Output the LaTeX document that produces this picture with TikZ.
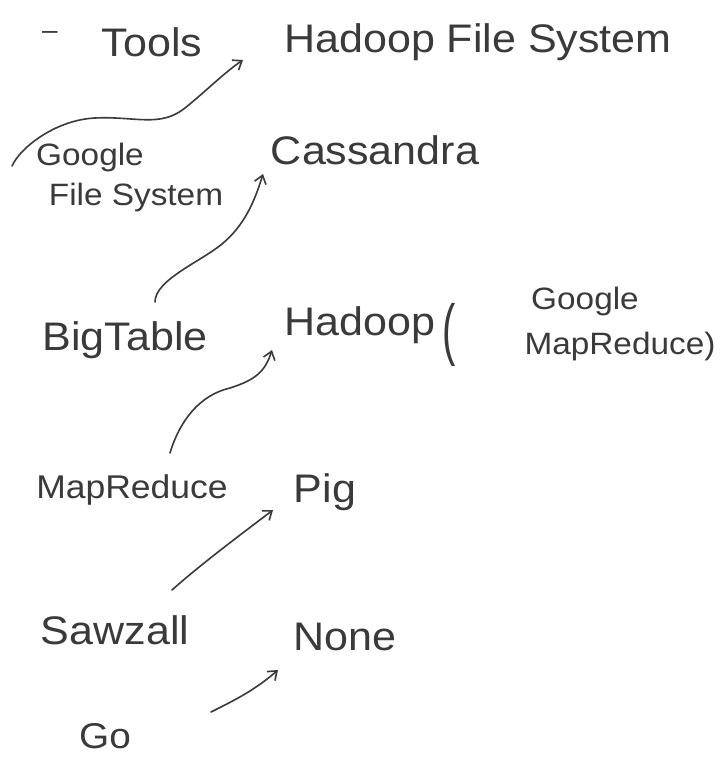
\documentclass[tikz,border=0pt]{standalone}
\usepackage{fontspec}
\setmainfont{Liberation Sans}
\usepackage{graphicx}
\usetikzlibrary{arrows.meta}
\definecolor{ink}{HTML}{3A3A3A}
\newcommand{\hwsize}[2]{\fontsize{#1}{#1}\selectfont\scalebox{1.08}[1]{#2}}
\begin{document}
\begin{tikzpicture}[x=1bp,y=-1bp,
  lbl/.style={inner sep=0pt, text=ink},
  hand/.style={draw=ink, line width=1.6bp, line cap=round, line join=round,
    -{Straight Barb[length=8pt,width=12pt,line width=1.6bp]}}]
\fill[white] (0,0) rectangle (720,757);
\useasboundingbox (0,0) rectangle (720,757);
% labels
\node[lbl, anchor=base] (dash) at (50,40) {\fontsize{28}{28}\selectfont –};
\node[lbl] (tools) at (152,42) {\hwsize{40}{Tools}};
\node[lbl] (hfs) at (478,42) {\hwsize{40}{Hadoop File System}};
\node[lbl] (gfsa) at (90,158) {\hwsize{31}{Google}};
\node[lbl] (gfsb) at (136,198) {\hwsize{31}{File System}};
\node[lbl] (cass) at (375,150) {\hwsize{40}{Cassandra}};
\node[lbl] (bigtable) at (125,340) {\hwsize{40}{BigTable}};
\node[lbl] (hadoop) at (360,325) {\hwsize{40}{Hadoop}};
\node[lbl] (paren) at (449,335) {\fontsize{40}{40}\selectfont\scalebox{1}[1.7]{(}};
\node[lbl] (gmra) at (585,302) {\hwsize{31}{Google}};
\node[lbl] (gmrb) at (620,347) {\hwsize{31}{MapReduce)}};
\node[lbl] (mapreduce) at (132,490) {\hwsize{33}{MapReduce}};
\node[lbl] (pig) at (325,492) {\hwsize{40}{Pig}};
\node[lbl] (sawzall) at (115,630) {\hwsize{40}{Sawzall}};
\node[lbl] (none) at (345,637) {\hwsize{40}{None}};
\node[lbl] (go) at (105,736) {\hwsize{36}{Go}};
% connector ends
\coordinate (gfsTail) at (12,166);
\coordinate (hfsTip) at (243,60);
\coordinate (btTail) at (155,302);
\coordinate (cassTip) at (263,174);
\coordinate (mrTail) at (170,453);
\coordinate (hadTip) at (272,350);
\coordinate (szTail) at (172,590);
\coordinate (pigTip) at (273,510);
\coordinate (goTail) at (211,712);
\coordinate (noneTip) at (278,670);
% connectors
\draw[hand] (gfsTail) .. controls (20,148) and (55,120) .. (95,118)
  .. controls (135,116) and (160,128) .. (185,108)
  .. controls (205,92) and (225,72) .. (hfsTip);
\draw[hand] (btTail) .. controls (155,280) and (200,262) .. (222,244)
  .. controls (245,225) and (255,200) .. (cassTip);
\draw[hand] (mrTail) .. controls (180,420) and (200,395) .. (230,388)
  .. controls (255,380) and (265,372) .. (hadTip);
\draw[hand] (szTail) .. controls (200,565) and (240,535) .. (pigTip);
\draw[hand] (goTail) .. controls (235,700) and (255,690) .. (noneTip);
\end{tikzpicture}
\end{document}
